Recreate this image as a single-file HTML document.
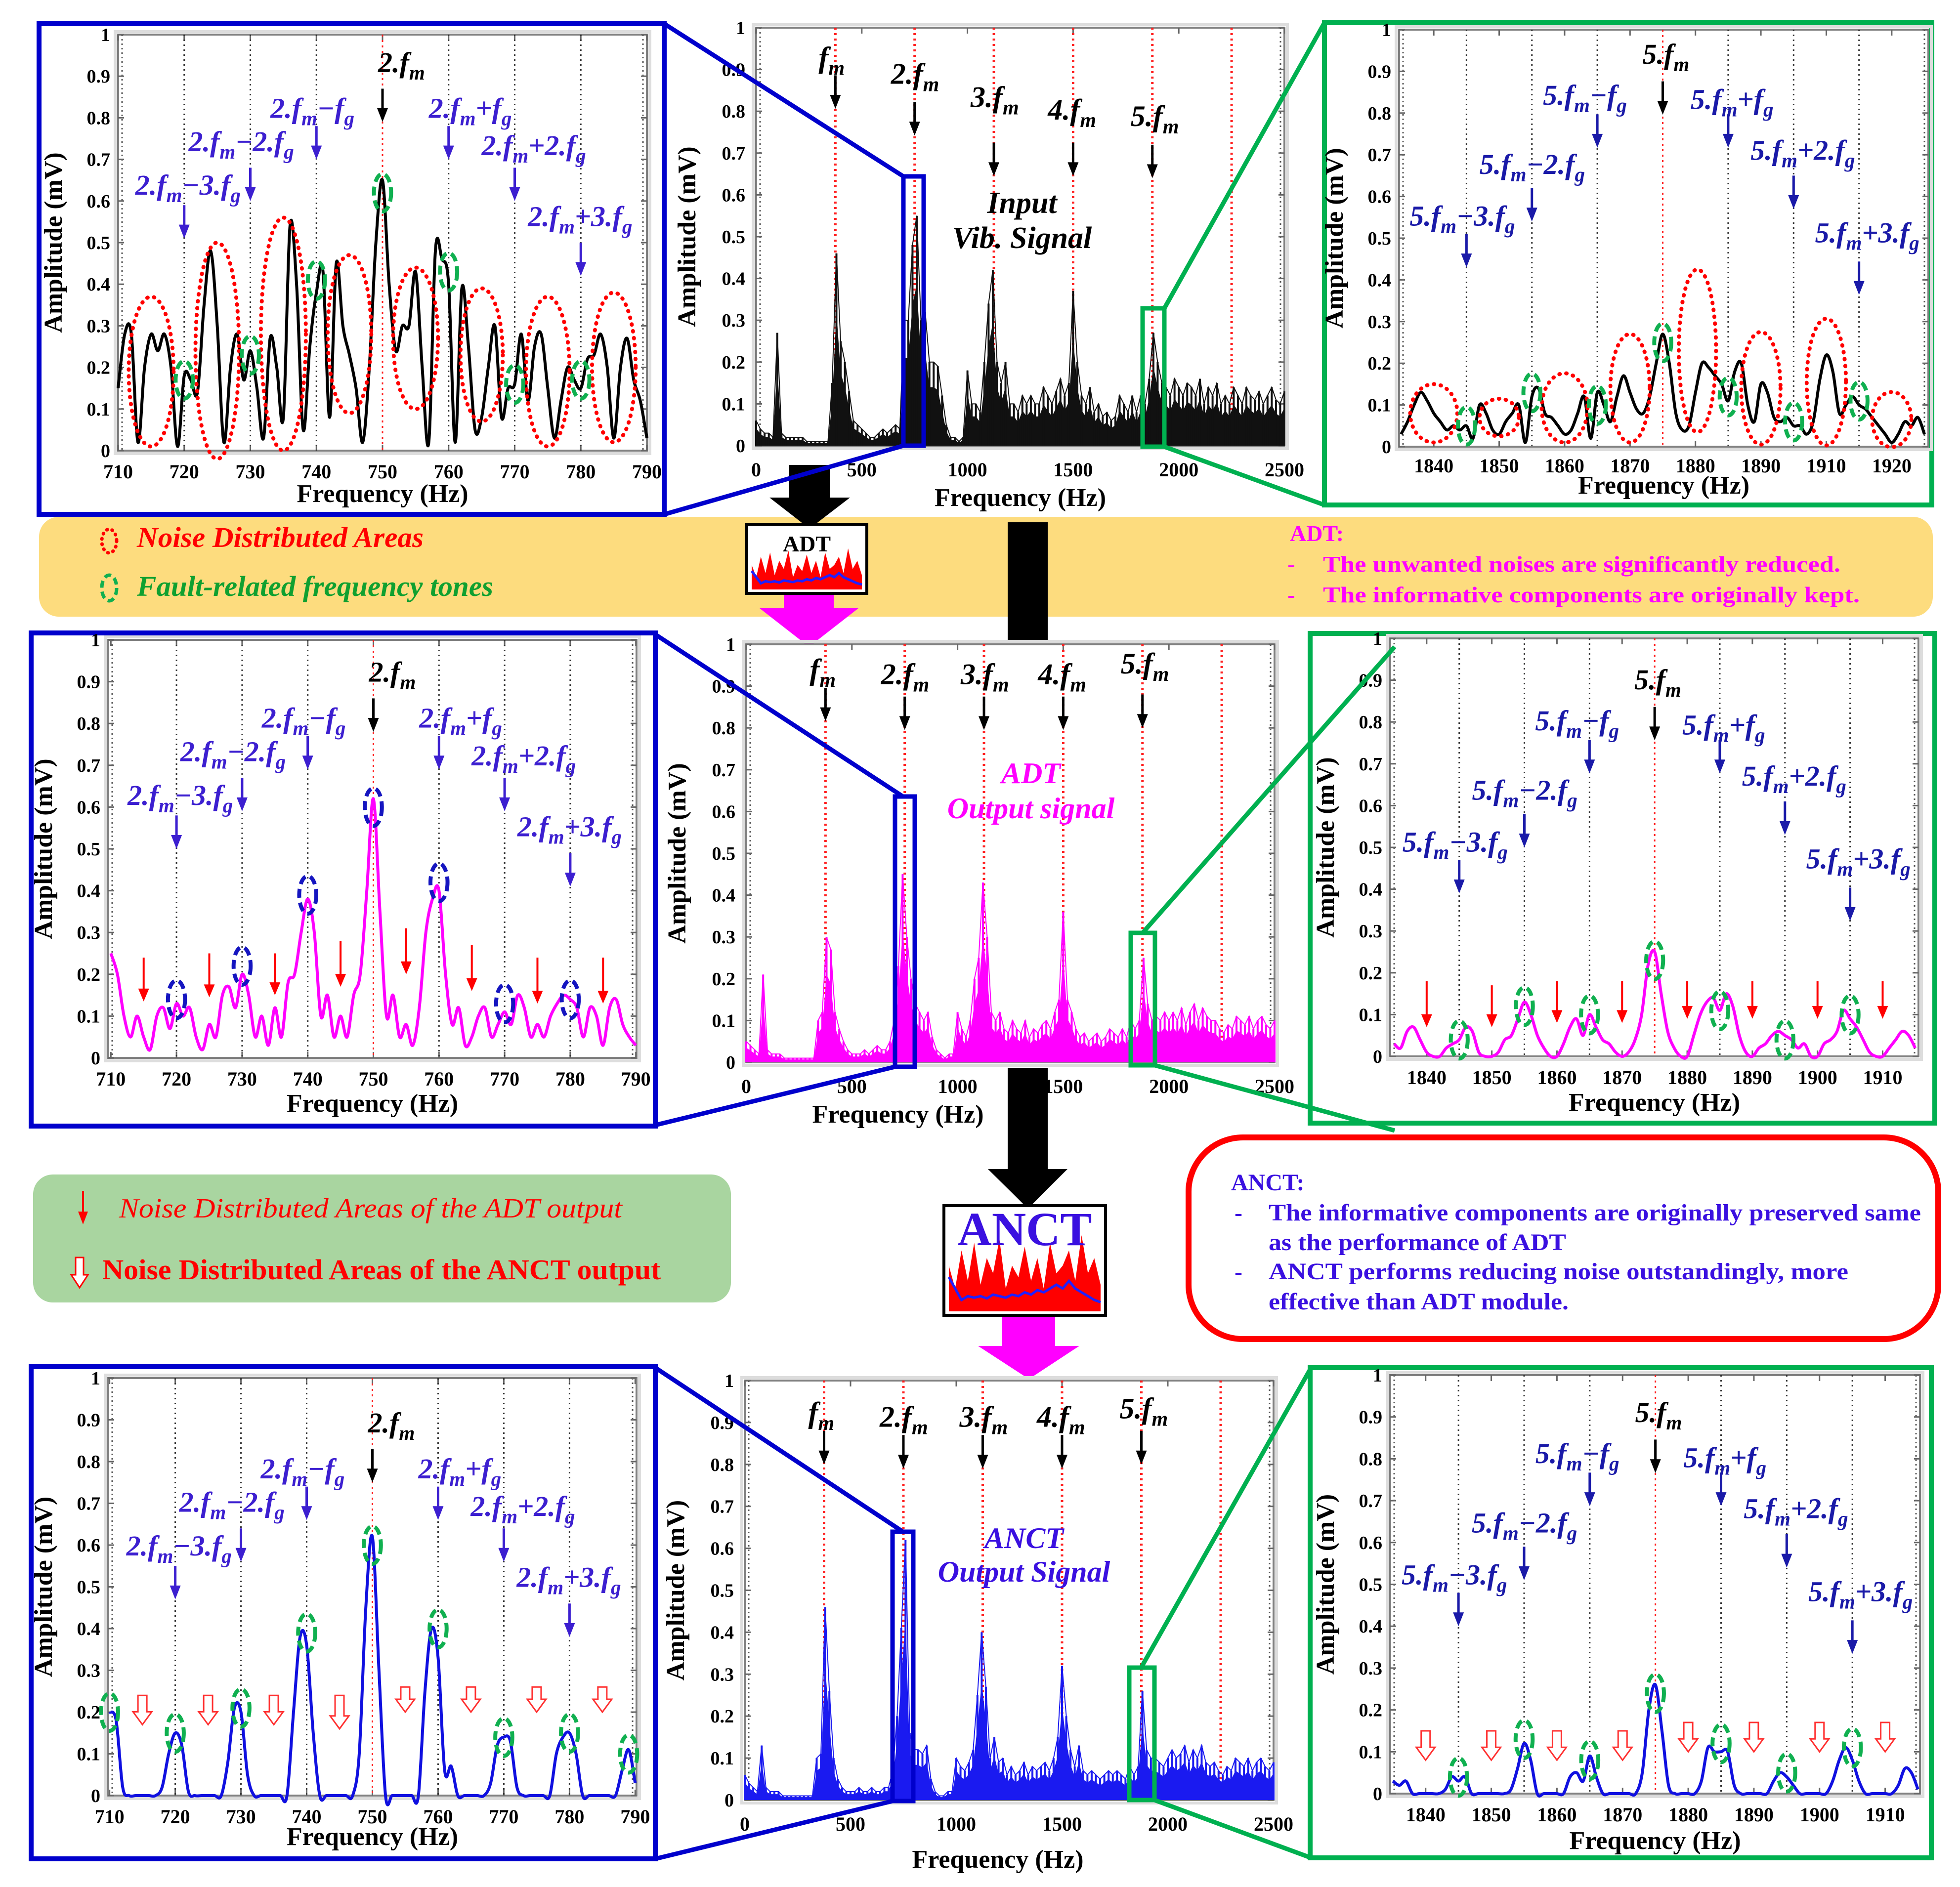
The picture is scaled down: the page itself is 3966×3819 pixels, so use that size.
<!DOCTYPE html>
<html><head><meta charset="utf-8"><title>ADT / ANCT spectra</title>
<style>
html,body{margin:0;padding:0;background:#fff;}
svg{display:block;font-family:"Liberation Serif",serif;}
</style></head>
<body>
<svg id="chart" xmlns="http://www.w3.org/2000/svg" width="3966" height="3819" viewBox="0 0 3966 3819">
<rect x="0" y="0" width="3966" height="3819" fill="#fff"/>
<rect x="79" y="1046" width="3832" height="202" rx="40" fill="#fddc7e"/>
<rect x="67" y="2377" width="1412" height="259" rx="40" fill="#a9d5a0"/>
<rect x="2405" y="2302" width="1517" height="408" rx="110" fill="#fff" stroke="#ff0000" stroke-width="12"/>

<g>
<ellipse cx="221" cy="1095" rx="15" ry="24" fill="none" stroke="#ff0000" stroke-width="7" stroke-dasharray="1 10" stroke-linecap="round"/>
<text x="277" y="1107" font-size="58" font-weight="bold" font-style="italic" fill="#ff0000" textLength="580" lengthAdjust="spacingAndGlyphs">Noise Distributed Areas</text>
<ellipse cx="221" cy="1190" rx="15" ry="26" fill="none" stroke="#10b050" stroke-width="7" stroke-dasharray="14 8"/>
<text x="277" y="1206" font-size="58" font-weight="bold" font-style="italic" fill="#10a030" textLength="721" lengthAdjust="spacingAndGlyphs">Fault-related frequency tones</text>
<text x="2610" y="1095" font-size="46" font-weight="bold" fill="#ff00ff">ADT:</text>
<text x="2605" y="1157" font-size="46" font-weight="bold" fill="#ff00ff">-</text>
<text x="2677" y="1157" font-size="46" font-weight="bold" fill="#ff00ff" textLength="1047" lengthAdjust="spacingAndGlyphs">The unwanted noises are significantly reduced.</text>
<text x="2605" y="1219" font-size="46" font-weight="bold" fill="#ff00ff">-</text>
<text x="2677" y="1219" font-size="46" font-weight="bold" fill="#ff00ff" textLength="1086" lengthAdjust="spacingAndGlyphs">The informative components are originally kept.</text>
</g>

<g>
<line x1="168" y1="2410" x2="168" y2="2455" stroke="#ff0000" stroke-width="4"/>
<polygon points="158,2452 178,2452 168,2478" fill="#ff0000"/>
<text x="241" y="2464" font-size="56" font-style="italic" fill="#ff0000" textLength="1018" lengthAdjust="spacingAndGlyphs">Noise Distributed Areas  of the ADT output</text>
<polygon points="153,2545 169,2545 169,2580 178,2580 161,2606 144,2580 153,2580" fill="#fff" stroke="#ff0000" stroke-width="3"/>
<text x="207" y="2589" font-size="58" font-weight="bold" fill="#ff0000" textLength="1130" lengthAdjust="spacingAndGlyphs">Noise Distributed Areas  of the ANCT output</text>
</g>

<g fill="#3a10e0" font-weight="bold" font-size="48">
<text x="2491" y="2409">ANCT:</text>
<text x="2498" y="2470">-</text>
<text x="2567" y="2470" textLength="1320" lengthAdjust="spacingAndGlyphs">The informative components are originally preserved same</text>
<text x="2567" y="2530" textLength="602" lengthAdjust="spacingAndGlyphs">as the performance of ADT</text>
<text x="2498" y="2589">-</text>
<text x="2567" y="2589" textLength="1173" lengthAdjust="spacingAndGlyphs">ANCT performs reducing noise outstandingly,  more</text>
<text x="2567" y="2650" textLength="607" lengthAdjust="spacingAndGlyphs">effective than ADT module.</text>
</g>

<g>
<polygon points="1597,941 1679,941 1679,1007 1720,1007 1638,1070 1557,1007 1597,1007" fill="#000"/>
<polygon points="1586,1201 1687,1201 1687,1231 1737,1231 1637,1309 1537,1231 1586,1231" fill="#ff00ff"/>
<rect x="2039" y="1057" width="81" height="239" fill="#000"/>
<polygon points="2039,2161 2120,2161 2120,2366 2160,2366 2080,2446 1999,2366 2039,2366" fill="#000"/>
<polygon points="2028,2659 2135,2659 2135,2724 2184,2724 2082,2791 1979,2724 2028,2724" fill="#ff00ff"/>
</g>

<g id="connectors">
<line x1="1344" y1="48" x2="1828" y2="357" stroke="#0000cc" stroke-width="9"/>
<line x1="1344" y1="1041" x2="1828" y2="902" stroke="#0000cc" stroke-width="9"/>
<line x1="2356" y1="624" x2="2680" y2="46" stroke="#00b050" stroke-width="9"/>
<line x1="2356" y1="904" x2="2680" y2="1022" stroke="#00b050" stroke-width="9"/>
<line x1="1326" y1="1284" x2="1827" y2="1612" stroke="#0000cc" stroke-width="9"/>
<line x1="1326" y1="2277" x2="1811" y2="2159" stroke="#0000cc" stroke-width="9"/>
<line x1="2312" y1="1888" x2="2822" y2="1309" stroke="#00b050" stroke-width="9"/>
<line x1="2337" y1="2156" x2="2822" y2="2288" stroke="#00b050" stroke-width="9"/>
<line x1="1326" y1="2768" x2="1827" y2="3100" stroke="#0000cc" stroke-width="9"/>
<line x1="1326" y1="3762" x2="1806" y2="3645" stroke="#0000cc" stroke-width="9"/>
<line x1="2309" y1="3375" x2="2653" y2="2768" stroke="#00b050" stroke-width="9"/>
<line x1="2336" y1="3643" x2="2653" y2="3760" stroke="#00b050" stroke-width="9"/>
</g>
</svg>

<script>
// ---------- DATA ----------
const specStep = 20; // Hz per bin of full spectra (0..2500)
const inputSpectrum = [0.06,0.04,0.03,0.03,0.02,0.27,0.03,0.02,0.02,0.02,0.02,0.02,0.01,0.01,0.01,0.01,0.01,0.01,
0.15,0.46,0.25,0.2,0.13,0.06,
0.05,0.04,0.03,0.02,0.02,0.03,0.04,0.03,0.04,0.05,0.04,0.3,
0.3,0.48,0.55,0.3,0.32,0.2,0.2,0.19,0.12,0.05,
0.02,0.02,0.01,0.02,0.18,
0.1,0.1,0.08,0.2,0.34,0.42,0.2,0.15,0.2,0.1,0.1,0.08,
0.12,0.1,0.12,0.1,0.1,0.14,0.12,0.1,0.13,0.16,0.12,0.15,
0.37,0.2,0.12,0.1,0.14,0.08,0.1,0.07,0.08,0.06,0.07,0.12,
0.1,0.08,0.12,0.08,0.12,0.1,0.16,0.27,0.2,0.15,0.14,0.12,
0.16,0.14,0.12,0.15,0.14,0.12,0.16,0.1,0.14,0.12,0.15,0.1,
0.12,0.1,0.14,0.12,0.1,0.14,0.12,0.11,0.13,0.1,0.12,0.14,0.11,0.1,0.13];
const adtSpectrum = [0.05,0.04,0.03,0.02,0.21,0.03,0.02,0.02,0.02,0.01,0.01,0.01,0.01,0.01,0.01,0.01,0.01,0.1,
0.12,0.3,0.27,0.12,0.08,0.05,
0.03,0.02,0.02,0.02,0.03,0.02,0.03,0.04,0.03,0.03,0.05,0.1,
0.23,0.45,0.3,0.2,0.14,0.12,0.1,0.12,0.06,0.03,
0.02,0.01,0.02,0.02,0.12,
0.08,0.06,0.1,0.2,0.25,0.43,0.3,0.12,0.1,0.12,0.08,0.07,
0.1,0.08,0.07,0.1,0.06,0.08,0.07,0.09,0.1,0.08,0.12,0.15,
0.36,0.15,0.12,0.08,0.06,0.07,0.05,0.06,0.07,0.05,0.06,0.08,
0.07,0.06,0.08,0.06,0.1,0.08,0.1,0.25,0.14,0.1,0.11,0.1,
0.12,0.1,0.12,0.1,0.13,0.09,0.12,0.14,0.1,0.13,0.11,0.1,
0.1,0.08,0.07,0.09,0.08,0.11,0.1,0.09,0.11,0.08,0.1,0.11,0.09,0.08,0.1];
const anctSpectrum = [0.06,0.04,0.03,0.02,0.13,0.03,0.02,0.02,0.02,0.01,0.01,0.01,0.01,0.01,0.01,0.01,0.01,0.1,
0.11,0.46,0.26,0.1,0.05,0.03,
0.02,0.02,0.02,0.03,0.02,0.02,0.03,0.02,0.02,0.03,0.03,0.07,
0.2,0.41,0.62,0.16,0.12,0.12,0.11,0.13,0.05,0.02,
0.01,0.01,0.02,0.02,0.1,
0.08,0.07,0.09,0.12,0.25,0.4,0.27,0.1,0.15,0.09,0.1,0.06,
0.08,0.06,0.07,0.09,0.06,0.08,0.07,0.08,0.09,0.07,0.1,0.15,
0.32,0.2,0.12,0.08,0.13,0.07,0.06,0.07,0.06,0.05,0.06,0.07,
0.06,0.07,0.06,0.05,0.08,0.06,0.08,0.26,0.12,0.1,0.1,0.09,
0.08,0.1,0.12,0.1,0.11,0.13,0.09,0.12,0.1,0.13,0.09,0.08,
0.09,0.07,0.06,0.08,0.07,0.1,0.09,0.08,0.1,0.07,0.09,0.1,0.08,0.07,0.09];

const leftStartHz = 710;
const leftInput = [0.15,0.28,0.28,0.02,0.2,0.28,0.24,0.28,0.2,0.01,0.18,0.17,0.14,0.35,0.48,0.3,0.02,0.2,0.28,0.17,
0.24,0.15,0.03,0.27,0.2,0.08,0.54,0.4,0.05,0.25,0.38,0.43,0.08,0.45,0.3,0.23,0.15,0.02,0.2,0.5,
0.65,0.4,0.24,0.3,0.3,0.43,0.2,0.02,0.48,0.46,0.4,0.02,0.39,0.25,0.05,0.08,0.2,0.3,0.08,0.15,
0.16,0.28,0.12,0.25,0.28,0.15,0.03,0.12,0.2,0.17,0.15,0.22,0.23,0.28,0.2,0.03,0.2,0.27,0.17,0.12,0.03];
const leftAdt = [0.25,0.2,0.1,0.05,0.1,0.05,0.02,0.1,0.12,0.07,0.13,0.1,0.12,0.05,0.02,0.08,0.05,0.15,0.17,0.12,
0.2,0.15,0.05,0.1,0.03,0.12,0.05,0.18,0.2,0.3,0.38,0.3,0.1,0.15,0.05,0.1,0.05,0.15,0.2,0.4,
0.62,0.35,0.1,0.15,0.05,0.08,0.03,0.12,0.3,0.38,0.4,0.2,0.08,0.12,0.03,0.05,0.1,0.12,0.05,0.08,
0.11,0.08,0.15,0.12,0.05,0.08,0.05,0.1,0.13,0.15,0.14,0.12,0.05,0.12,0.1,0.03,0.12,0.14,0.08,0.05,0.03];
const leftAnct = [0.2,0.18,0.02,0,0,0,0,0,0.02,0.1,0.15,0.12,0.01,0,0,0,0,0,0.08,0.21,
0.2,0.05,0,0,0,0,0,0,0.2,0.38,0.36,0.15,0,0,0,0,0,0,0.1,0.45,
0.62,0.3,0,0,0,0,0,0,0.25,0.4,0.33,0.06,0.07,0,0,0,0,0,0.03,0.12,
0.14,0.13,0.02,0,0,0,0,0,0.1,0.14,0.15,0.1,0,0,0,0,0,0,0.06,0.11,0.03];

const rightStartHz = 1835;
const rightInput = [0.03,0.06,0.1,0.13,0.11,0.08,0.06,0.04,0.05,0.04,0.05,0.02,0.1,0.08,0.04,0.03,0.06,0.08,0.1,0.01,
0.12,0.14,0.08,0.07,0.05,0.03,0.04,0.08,0.12,0.02,0.13,0.1,0.06,0.12,0.17,0.13,0.09,0.08,0.12,0.2,
0.27,0.2,0.08,0.04,0.05,0.13,0.2,0.19,0.17,0.15,0.11,0.18,0.2,0.1,0.06,0.15,0.13,0.07,0.06,0.07,
0.05,0.05,0.03,0.06,0.16,0.22,0.18,0.08,0.1,0.12,0.1,0.09,0.07,0.05,0.03,0.01,0.03,0.06,0.05,0.07,0.03];
const rightAdt = [0.03,0.02,0.06,0.07,0.04,0.01,0,0,0.02,0.03,0.04,0.07,0.06,0.01,0,0,0.01,0.04,0.05,0.09,
0.13,0.1,0.05,0.02,0,0,0.03,0.07,0.09,0.05,0.1,0.07,0.04,0.03,0.01,0,0.01,0.04,0.1,0.22,
0.25,0.15,0.06,0.02,0,0,0.05,0.1,0.13,0.14,0.11,0.15,0.12,0.05,0.01,0,0.02,0.03,0.05,0.06,
0.05,0.04,0.02,0.03,0,0,0.03,0.04,0.06,0.11,0.09,0.07,0.04,0.01,0,0,0.02,0.04,0.06,0.05,0.02];
const rightAnct = [0.03,0.02,0.03,0,0,0,0,0,0.01,0.04,0.03,0.04,0,0,0,0,0,0,0.01,0.06,
0.12,0.08,0,0,0,0,0,0.04,0.05,0.03,0.09,0.04,0,0,0,0,0,0,0.05,0.2,
0.26,0.15,0.02,0,0,0,0,0.03,0.11,0.1,0.1,0.1,0.02,0,0,0,0,0,0.03,0.05,
0.04,0.02,0,0,0,0,0,0.03,0.08,0.11,0.08,0.03,0,0,0,0,0,0.02,0.06,0.05,0.01];

const yTickValues = [0,0.1,0.2,0.3,0.4,0.5,0.6,0.7,0.8,0.9,1];
const yTickLabels = ['0','0.1','0.2','0.3','0.4','0.5','0.6','0.7','0.8','0.9','1'];
const leftTickValues = [710,720,730,740,750,760,770,780,790];
const leftTickLabels = ['710','720','730','740','750','760','770','780','790'];
const rightTickValues = [1840,1850,1860,1870,1880,1890,1900,1910];
const rightTickLabelsTop = ['1840','1850','1860','1870','1880','1890','1910','1920'];
const rightTickLabels = ['1840','1850','1860','1870','1880','1890','1900','1910'];
const fullTickValues = [0,500,1000,1500,2000,2500];
const fullTickLabels = ['0','500','1000','1500','2000','2500'];
const meshHz = 375;
const harmonicOrders = [1,2,3,4,5];
const sidebandOrders = [-3,-2,-1,0,1,2,3];

const tlNoiseEllipses = [[715,0.19,3.4,0.18],[725,0.24,3.3,0.26],[735,0.28,3.4,0.28],[745,0.28,3.3,0.19],[755,0.27,3.4,0.17],[765,0.23,3.2,0.16],[775,0.19,3.3,0.18],[785,0.2,3.3,0.18]];
const tlFaultMarks = [[720,0.17],[730,0.23],[740,0.41],[750,0.62],[760,0.43],[770,0.16],[780,0.17]];
const trNoiseEllipses = [[1840,0.08,3.6,0.07],[1850,0.07,3,0.045],[1860,0.093,3.5,0.083],[1870,0.14,3,0.13],[1880.3,0.23,2.85,0.195],[1890,0.14,3,0.135],[1900,0.155,3,0.152],[1910,0.065,3,0.066]];
const trFaultMarks = [[1845,0.05],[1855,0.13],[1865,0.1],[1875,0.25],[1885,0.12],[1895,0.06],[1905,0.11]];
const mlFaultMarks = [[720,0.14],[730,0.22],[740,0.39],[750,0.6],[760,0.42],[770,0.13],[780,0.14]];
const mlNoiseArrows = [[715,0.24,0.135],[725,0.25,0.145],[735,0.25,0.15],[745,0.28,0.17],[755,0.31,0.2],[765,0.27,0.16],[775,0.24,0.13],[785,0.24,0.13]];
const mrFaultMarks = [[1845,0.04],[1855,0.12],[1865,0.1],[1875,0.23],[1885,0.11],[1895,0.04],[1905,0.1]];
const mrNoiseArrows = [[1840,0.18,0.07],[1850,0.17,0.07],[1860,0.18,0.08],[1870,0.18,0.08],[1880,0.18,0.09],[1890,0.18,0.09],[1900,0.18,0.09],[1910,0.18,0.09]];
const blFaultMarks = [[710,0.2],[720,0.15],[730,0.21],[740,0.39],[750,0.6],[760,0.4],[770,0.14],[780,0.15],[789,0.1]];
const blNoiseArrows = [[715,0.24,0.17],[725,0.24,0.17],[735,0.24,0.17],[745,0.24,0.16],[755,0.26,0.2],[765,0.26,0.2],[775,0.26,0.2],[785,0.26,0.2]];
const brFaultMarks = [[1845,0.04],[1855,0.13],[1865,0.08],[1875,0.24],[1885,0.12],[1895,0.05],[1905,0.11]];
const brNoiseArrows = [[1840,0.15,0.08],[1850,0.15,0.08],[1860,0.15,0.08],[1870,0.15,0.08],[1880,0.17,0.1],[1890,0.17,0.1],[1900,0.17,0.1],[1910,0.17,0.1]];
const iconNoise = [0.6,0.3,0.8,0.4,0.9,0.35,0.7,0.5,0.95,0.3,0.6,0.45,0.85,0.4,0.7,0.3,0.9,0.5,0.6,0.8,0.4,1,0.5,0.7,0.35];
const iconTrend = [0.45,0.3,0.15,0.2,0.18,0.2,0.17,0.22,0.2,0.18,0.22,0.2,0.25,0.22,0.28,0.25,0.3,0.35,0.3,0.4,0.3,0.25,0.2,0.15,0.12];

// ---------- RENDER ----------
const NS = 'http://www.w3.org/2000/svg';
const svg = document.getElementById('chart');
function mk(tag, name, attrs, parent) {
  const el = document.createElementNS(NS, tag);
  
  
  for (const k in attrs) el.setAttribute(k, attrs[k]);
  parent.appendChild(el);
  return el;
}
function labelMarkup(coef, rest, fs) {
  const sub = Math.round(fs * 0.7), d = Math.round(fs * 0.25);
  let s = `<tspan>${coef}</tspan><tspan>f</tspan><tspan dy="${d}" font-size="${sub}">m</tspan>`;
  if (rest !== null) s += `<tspan dy="${-d}">${rest}f</tspan><tspan dy="${d}" font-size="${sub}">g</tspan>`;
  return s;
}
function arrow(g, name, x, yTop, yTip, color, w, hw, hl) {
  mk('line', name + '-shaft', {x1: x, y1: yTop, x2: x, y2: yTip - hl + 2, stroke: color, 'stroke-width': w}, g);
  mk('polygon', name + '-head', {points: `${x - hw},${yTip - hl} ${x + hw},${yTip - hl} ${x},${yTip}`, fill: color}, g);
}
function smoothPath(pts) {
  let d = `M${pts[0][0].toFixed(1)},${pts[0][1].toFixed(1)}`;
  for (let i = 0; i < pts.length - 1; i++) {
    const p0 = pts[Math.max(0, i - 1)], p1 = pts[i], p2 = pts[i + 1], p3 = pts[Math.min(pts.length - 1, i + 2)];
    const c1x = p1[0] + (p2[0] - p0[0]) / 6, c1y = p1[1] + (p2[1] - p0[1]) / 6;
    const c2x = p2[0] - (p3[0] - p1[0]) / 6, c2y = p2[1] - (p3[1] - p1[1]) / 6;
    d += ` C${c1x.toFixed(1)},${c1y.toFixed(1)} ${c2x.toFixed(1)},${c2y.toFixed(1)} ${p2[0].toFixed(1)},${p2[1].toFixed(1)}`;
  }
  return d;
}

function drawPanel(p) {
  const g = mk('g', p.name, {}, svg);
  const X = f => p.x0 + (f - p.f0) / (p.f1 - p.f0) * (p.x1 - p.x0);
  const Y = a => p.y1 - a * (p.y1 - p.y0);
  if (p.box) mk('rect', p.name + '-frame', {x: p.box[0], y: p.box[1], width: p.box[2] - p.box[0], height: p.box[3] - p.box[1], fill: '#fff', stroke: p.boxColor, 'stroke-width': 10}, g);
  mk('rect', 'plot-shadow', {x: p.x0 - 6, y: p.y0 - 6, width: p.x1 - p.x0 + 12, height: p.y1 - p.y0 + 12, fill: 'none', stroke: '#dddddd', 'stroke-width': 6}, g);
  mk('rect', 'plot-border', {x: p.x0, y: p.y0, width: p.x1 - p.x0, height: p.y1 - p.y0, fill: '#fff', stroke: '#808080', 'stroke-width': 4}, g);
  mk('line', 'left-dotted-edge', {x1: p.x0 + 8, y1: p.y0, x2: p.x0 + 8, y2: p.y1, stroke: '#555', 'stroke-width': 3, 'stroke-dasharray': '3 6'}, g);
  mk('line', 'right-dotted-edge', {x1: p.x1 - 8, y1: p.y0, x2: p.x1 - 8, y2: p.y1, stroke: '#555', 'stroke-width': 3, 'stroke-dasharray': '3 6'}, g);
  yTickValues.forEach((v, i) => {
    mk('line', 'y-tick', {x1: p.x0, y1: Y(v), x2: p.x0 + 12, y2: Y(v), stroke: '#666', 'stroke-width': 3}, g);
    mk('line', 'y-tick-right', {x1: p.x1 - 12, y1: Y(v), x2: p.x1, y2: Y(v), stroke: '#666', 'stroke-width': 3}, g);
    const t = mk('text', 'y-tick-label', {x: p.x0 + p.yLabDx, y: Y(v) + 13, 'text-anchor': 'end', 'font-size': 38, 'font-weight': 'bold'}, g);
    t.textContent = yTickLabels[i];
  });
  p.xticks.forEach((v, i) => {
    mk('line', 'x-tick', {x1: X(v), y1: p.y1, x2: X(v), y2: p.y1 - 12, stroke: '#666', 'stroke-width': 3}, g);
    mk('line', 'x-tick-top', {x1: X(v), y1: p.y0, x2: X(v), y2: p.y0 + 12, stroke: '#666', 'stroke-width': 3}, g);
    const t = mk('text', 'x-tick-label', {x: X(v), y: p.y1 + p.xLabDy, 'text-anchor': 'middle', 'font-size': 40, 'font-weight': 'bold'}, g);
    t.textContent = p.xtickLabels[i];
  });
  (p.grid || []).forEach(f => mk('line', 'grid-line', {x1: X(f), y1: p.y0, x2: X(f), y2: p.y1, stroke: '#333', 'stroke-width': 3, 'stroke-dasharray': '3 7'}, g));
  (p.redLines || []).forEach(f => mk('line', 'harmonic-line', {x1: X(f), y1: p.y0, x2: X(f), y2: p.y1, stroke: '#ff2020', 'stroke-width': p.redW || 3, 'stroke-dasharray': '4 7'}, g));
  if (p.kind === 'line') {
    const pts = p.values.map((v, i) => [X(p.start + i), Y(v)]);
    mk('path', p.name + '-series', {d: smoothPath(pts), fill: 'none', stroke: p.color, 'stroke-width': 6, 'stroke-linejoin': 'round'}, g);
  } else {
    let d = `M${X(0)},${Y(0)}`;
    p.values.forEach((v, i) => { d += ` L${X(i * specStep).toFixed(1)},${Y(v * 0.7).toFixed(1)}`; });
    d += ` L${X((p.values.length - 1) * specStep)},${Y(0)} Z`;
    mk('path', p.name + '-series-fill', {d: d, fill: p.color, stroke: 'none'}, g);
    p.values.forEach((v, i) => mk('line', 'spectrum-bin', {x1: X(i * specStep), y1: Y(0), x2: X(i * specStep), y2: Y(v), stroke: p.color, 'stroke-width': 4}, g));
    const pts = p.values.map((v, i) => `${X(i * specStep).toFixed(1)},${Y(v).toFixed(1)}`).join(' ');
    mk('polyline', p.name + '-series', {points: pts, fill: 'none', stroke: p.color, 'stroke-width': 2}, g);
  }
  (p.noiseEll || []).forEach(e => mk('ellipse', 'noise-area-marker', {cx: X(e[0]), cy: Y(e[1]), rx: Math.abs(X(e[0] + e[2]) - X(e[0])), ry: e[3] * (p.y1 - p.y0), fill: 'none', stroke: '#ff0000', 'stroke-width': 8, 'stroke-dasharray': '1 13', 'stroke-linecap': 'round'}, g));
  (p.fault || []).forEach(e => mk('ellipse', 'fault-tone-marker', {cx: X(e[0]), cy: Y(e[1]), rx: Math.abs(X(e[0] + 1.3) - X(e[0])), ry: 0.045 * (p.y1 - p.y0), fill: 'none', stroke: p.faultColor, 'stroke-width': 8, 'stroke-dasharray': '18 10'}, g));
  (p.redArrows || []).forEach(a => arrow(g, 'noise-arrow', X(a[0]), Y(a[1]), Y(a[2]), '#ff0000', 4, 11, 26));
  (p.hollowArrows || []).forEach(a => {
    const x = X(a[0]), yt = Y(a[1]), yb = Y(a[2]), hl = 26;
    mk('polygon', 'anct-noise-arrow', {points: `${x-9},${yt} ${x+9},${yt} ${x+9},${yb-hl} ${x+19},${yb-hl} ${x},${yb} ${x-19},${yb-hl} ${x-9},${yb-hl}`, fill: '#fff', stroke: '#ff3030', 'stroke-width': 3}, g);
  });
  (p.annots || []).forEach(a => {
    const x = X(a.f);
    arrow(g, 'annotation-arrow', x, Y(a.tip + 0.08 + p.dA), Y(a.tip + p.dA), a.color, 5, 11, 28);
    const t = mk('text', 'annotation-label', {x: x + a.dx, y: Y(a.ta + p.dA), 'font-size': a.fs, 'font-weight': 'bold', 'font-style': 'italic', fill: a.color}, g);
    t.innerHTML = labelMarkup(a.coef, a.rest, a.fs);
  });
  (p.texts || []).forEach(tx => {
    const t = mk('text', tx.name, {x: tx.x, y: tx.y, 'text-anchor': 'middle', 'font-size': tx.fs, 'font-weight': 'bold', 'font-style': 'italic', fill: tx.color}, g);
    t.textContent = tx.s;
  });
  const xt = mk('text', 'x-axis-title', {x: p.xTitleX || (p.x0 + p.x1) / 2, y: p.y1 + p.xTitleDy, 'text-anchor': 'middle', 'font-size': 52, 'font-weight': 'bold'}, g);
  xt.textContent = 'Frequency (Hz)';
  const cy = (p.y0 + p.y1) / 2, cx = p.x0 + p.yTitleDx;
  const yt = mk('text', 'y-axis-title', {x: cx, y: cy, 'text-anchor': 'middle', 'font-size': 52, 'font-weight': 'bold', transform: `rotate(-90 ${cx} ${cy})`}, g);
  yt.textContent = 'Amplitude  (mV)';
  return g;
}

function sideAnnots(base, layout, coefText, color) {
  return sidebandOrders.map((k, i) => {
    const L = layout[i];
    const rest = k === 0 ? null : (k < 0 ? '\u2212' : '+') + (Math.abs(k) > 1 ? Math.abs(k) + '.' : '');
    return {f: base + k * 10, coef: coefText, rest: rest, ta: L[0], tip: L[1], dx: L[2], fs: 58, color: k === 0 ? '#000' : color};
  });
}
const leftLayout = [[0.615,0.51,-99],[0.72,0.60,-125],[0.80,0.70,-93],[0.91,0.79,-9],[0.80,0.70,-40],[0.71,0.60,-67],[0.54,0.42,-107]];
const rightLayout = [[0.53,0.43,-115],[0.654,0.54,-106],[0.82,0.717,-110],[0.918,0.796,-41],[0.81,0.717,-76],[0.688,0.57,-87],[0.49,0.364,-89]];
const leftGrid = sidebandOrders.filter(k => k !== 0).map(k => 2 * meshHz + k * 10);
const rightGrid = sidebandOrders.filter(k => k !== 0).map(k => 5 * meshHz + k * 10);
function centerAnnots(layout) {
  return harmonicOrders.map((h, i) => ({f: h * meshHz, coef: h === 1 ? '' : h + '.', rest: null, ta: layout[i][0], tip: layout[i][1], dx: layout[i][2], fs: 60, color: '#000'}));
}
const fullRed = harmonicOrders.concat([6]).map(h => h * meshHz);
const common = {yLabDx: -16, xLabDy: 56, xTitleDy: 104, yTitleDx: -114};

drawPanel(Object.assign({}, common, {name: 'input-zoom-2fm', box: [79,48,1344,1041], boxColor: '#0000cc', x0: 239, y0: 70, x1: 1309, y1: 912, f0: 710, f1: 790,
  xticks: leftTickValues, xtickLabels: leftTickLabels, grid: leftGrid, redLines: [2 * meshHz], kind: 'line', start: leftStartHz, values: leftInput, color: '#000',
  noiseEll: tlNoiseEllipses, fault: tlFaultMarks, faultColor: '#10b050', dA: 0, annots: sideAnnots(2 * meshHz, leftLayout, '2.', '#3c1fd0')}));
drawPanel(Object.assign({}, common, {name: 'input-spectrum', x0: 1530, y0: 56, x1: 2599, y1: 902, f0: 0, f1: 2500, yLabDx: -22, xLabDy: 62, xTitleDy: 122, yTitleDx: -123,
  xticks: fullTickValues, xtickLabels: fullTickLabels, redLines: fullRed, redW: 5, kind: 'spec', values: inputSpectrum, color: '#111',
  dA: 0, annots: centerAnnots([[0.905,0.806,-34],[0.866,0.742,-48],[0.81,0.645,-47],[0.78,0.645,-51],[0.765,0.64,-44]]),
  texts: [{name: 'input-title-1', s: 'Input', x: 2068, y: 431, fs: 62, color: '#000'}, {name: 'input-title-2', s: 'Vib. Signal', x: 2068, y: 502, fs: 62, color: '#000'}]}));
drawPanel(Object.assign({}, common, {name: 'input-zoom-5fm', box: [2680,46,3909,1022], boxColor: '#00b050', x0: 2831, y0: 60, x1: 3902, y1: 904, f0: 1834.7, f1: 1915.6, xLabDy: 52, xTitleDy: 95,
  xticks: rightTickValues, xtickLabels: rightTickLabelsTop, grid: rightGrid, redLines: [5 * meshHz], kind: 'line', start: rightStartHz, values: rightInput, color: '#000',
  noiseEll: trNoiseEllipses, fault: trFaultMarks, faultColor: '#10b050', dA: 0, annots: sideAnnots(5 * meshHz, rightLayout, '5.', '#1a1aa8')}));

drawPanel(Object.assign({}, common, {name: 'adt-zoom-2fm', box: [63,1281,1326,2279], boxColor: '#0000cc', x0: 219, y0: 1295, x1: 1288, y1: 2141, f0: 709.6, f1: 790.1, xTitleDy: 109,
  xticks: leftTickValues, xtickLabels: leftTickLabels, grid: leftGrid, redLines: [2 * meshHz], kind: 'line', start: leftStartHz, values: leftAdt, color: '#ff00ff',
  fault: mlFaultMarks, faultColor: '#1515c0', redArrows: mlNoiseArrows, dA: -0.01, annots: sideAnnots(2 * meshHz, leftLayout, '2.', '#3c1fd0')}));
drawPanel(Object.assign({}, common, {name: 'adt-spectrum', x0: 1510, y0: 1304, x1: 2579, y1: 2150, f0: 0, f1: 2500, yLabDx: -22, xLabDy: 62, xTitleDy: 122, yTitleDx: -123, xTitleX: 1817,
  xticks: fullTickValues, xtickLabels: fullTickLabels, redLines: fullRed, redW: 5, kind: 'spec', values: adtSpectrum, color: '#ff00ff',
  dA: 0, annots: centerAnnots([[0.916,0.816,-32],[0.905,0.795,-48],[0.905,0.795,-47],[0.905,0.795,-51],[0.93,0.8,-44]]),
  texts: [{name: 'adt-title-1', s: 'ADT', x: 2086, y: 1585, fs: 60, color: '#ff00ff'}, {name: 'adt-title-2', s: 'Output signal', x: 2086, y: 1656, fs: 60, color: '#ff00ff'}]}));
drawPanel(Object.assign({}, common, {name: 'adt-zoom-5fm', box: [2651,1282,3915,2273], boxColor: '#00b050', x0: 2813, y0: 1292, x1: 3882, y1: 2138, f0: 1834.4, f1: 1915.5, xLabDy: 56, xTitleDy: 110,
  xticks: rightTickValues, xtickLabels: rightTickLabels, grid: rightGrid, redLines: [5 * meshHz], kind: 'line', start: rightStartHz, values: rightAdt, color: '#ff00ff',
  fault: mrFaultMarks, faultColor: '#10b050', redArrows: mrNoiseArrows, dA: -0.04, annots: sideAnnots(5 * meshHz, rightLayout, '5.', '#1a1aa8')}));

drawPanel(Object.assign({}, common, {name: 'anct-zoom-2fm', box: [63,2766,1326,3762], boxColor: '#0000cc', x0: 219, y0: 2789, x1: 1288, y1: 3634, f0: 709.8, f1: 790.2, xTitleDy: 100,
  xticks: leftTickValues, xtickLabels: leftTickLabels, grid: leftGrid, redLines: [2 * meshHz], kind: 'line', start: leftStartHz, values: leftAnct, color: '#1010e0',
  fault: blFaultMarks, faultColor: '#10b050', hollowArrows: blNoiseArrows, dA: -0.04, annots: sideAnnots(2 * meshHz, leftLayout, '2.', '#3c1fd0')}));
drawPanel(Object.assign({}, common, {name: 'anct-spectrum', x0: 1507, y0: 2794, x1: 2577, y1: 3643, f0: 0, f1: 2500, yLabDx: -22, xLabDy: 62, xTitleDy: 137, yTitleDx: -123, xTitleX: 2019,
  xticks: fullTickValues, xtickLabels: fullTickLabels, redLines: fullRed, redW: 5, kind: 'spec', values: anctSpectrum, color: '#1a1af0',
  dA: 0, annots: centerAnnots([[0.9,0.8,-32],[0.89,0.79,-48],[0.89,0.79,-47],[0.89,0.79,-51],[0.91,0.8,-44]]),
  texts: [{name: 'anct-title-1', s: 'ANCT', x: 2072, y: 3133, fs: 60, color: '#3a10e0'}, {name: 'anct-title-2', s: 'Output Signal', x: 2072, y: 3201, fs: 60, color: '#3a10e0'}]}));
drawPanel(Object.assign({}, common, {name: 'anct-zoom-5fm', box: [2651,2768,3908,3760], boxColor: '#00b050', x0: 2813, y0: 2783, x1: 3885, y1: 3630, f0: 1834.6, f1: 1915.3, xLabDy: 56, xTitleDy: 112,
  xticks: rightTickValues, xtickLabels: rightTickLabels, grid: rightGrid, redLines: [5 * meshHz], kind: 'line', start: rightStartHz, values: rightAnct, color: '#1010e0',
  fault: brFaultMarks, faultColor: '#10b050', hollowArrows: brNoiseArrows, dA: -0.03, annots: sideAnnots(5 * meshHz, rightLayout, '5.', '#1a1aa8')}));

const zoomRects = [[1828,357,1869,902,'#0000cc'],[2312,624,2356,904,'#00b050'],[1811,1612,1851,2159,'#0000cc'],[2288,1888,2337,2156,'#00b050'],[1806,3100,1848,3645,'#0000cc'],[2285,3375,2336,3643,'#00b050']];
zoomRects.forEach(r => mk('rect', 'zoom-region-box', {x: r[0], y: r[1], width: r[2] - r[0], height: r[3] - r[1], fill: 'none', stroke: r[4], 'stroke-width': 9}, svg));
svg.appendChild(document.getElementById('connectors'));

function icon(name, x0, y0, x1, y1, label, labelY, fs, labelColor, ny0) {
  const g = mk('g', name, {}, svg);
  mk('rect', name + '-frame', {x: x0, y: y0, width: x1 - x0, height: y1 - y0, fill: '#fff', stroke: '#000', 'stroke-width': 6}, g);
  const w = x1 - x0 - 20, h = y1 - ny0 - 8;
  let d = `M${x0 + 10},${y1 - 8}`;
  iconNoise.forEach((v, i) => { d += ` L${(x0 + 10 + i * w / (iconNoise.length - 1)).toFixed(1)},${(y1 - 8 - v * h).toFixed(1)}`; });
  d += ` L${x1 - 10},${y1 - 8} Z`;
  mk('path', name + '-noise', {d: d, fill: '#ff0000'}, g);
  const pts = iconTrend.map((v, i) => `${(x0 + 10 + i * w / (iconTrend.length - 1)).toFixed(1)},${(y1 - 8 - v * h).toFixed(1)}`).join(' ');
  mk('polyline', name + '-trend', {points: pts, fill: 'none', stroke: '#2020ff', 'stroke-width': 5}, g);
  const t = mk('text', name + '-label', {x: (x0 + x1) / 2, y: labelY, 'text-anchor': 'middle', 'font-size': fs, 'font-weight': 'bold', fill: labelColor}, g);
  t.textContent = label;
}
icon('adt-module-icon', 1511, 1061, 1754, 1201, 'ADT', 1116, 46, '#000', 1110);
icon('anct-module-icon', 1910, 2440, 2237, 2662, 'ANCT', 2520, 96, '#3a10e0', 2500);
</script>
</body></html>
